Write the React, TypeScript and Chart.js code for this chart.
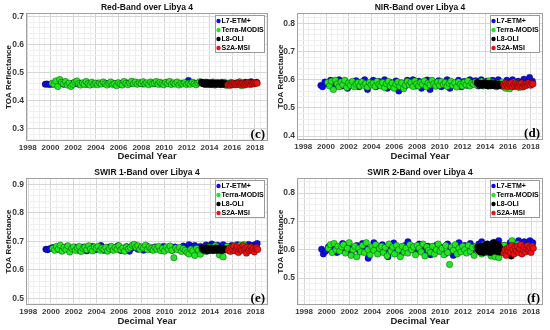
import React, { useEffect, useRef } from "react";
import { Chart, registerables } from "chart.js";

Chart.register(...registerables);

const SENSORS = ["L7-ETM+", "Terra-MODIS", "L8-OLI", "S2A-MSI"];
const SENSOR_COLORS = ["#0b0bf2", "#22e622", "#000000", "#ee1111"];
const X_TICKS = [1998, 2000, 2002, 2004, 2006, 2008, 2010, 2012, 2014, 2016, 2018];

const L7_DATES = [
  1999.55, 1999.7, 1999.9,
  2000.15, 2000.4, 2000.65, 2000.9, 2001.15, 2001.4, 2001.65, 2001.9,
  2002.15, 2002.4, 2002.65, 2002.9, 2003.15, 2003.4, 2003.65, 2003.9,
  2004.15, 2004.4, 2004.65, 2004.9, 2005.15, 2005.4, 2005.65, 2005.9,
  2006.15, 2006.4, 2006.65, 2006.9, 2007.15, 2007.4, 2007.65, 2007.9,
  2008.15, 2008.4, 2008.65, 2008.9, 2009.15, 2009.4, 2009.65, 2009.9,
  2010.15, 2010.4, 2010.65, 2010.9, 2011.15, 2011.4, 2011.65, 2011.9,
  2012.15, 2012.4, 2012.65, 2012.9, 2013.15, 2013.4, 2013.65, 2013.9,
  2014.15, 2014.4, 2014.65, 2014.9, 2015.15, 2015.4, 2015.65, 2015.9,
  2016.15, 2016.4, 2016.65, 2016.9, 2017.15, 2017.4, 2017.65, 2017.9,
  2018.15,
];
const MODIS_DATES = [
  2000.15, 2000.32, 2000.48, 2000.65, 2000.82, 2000.98,
  2001.15, 2001.32, 2001.48, 2001.65, 2001.82, 2001.98,
  2002.15, 2002.32, 2002.48, 2002.65, 2002.82, 2002.98,
  2003.15, 2003.32, 2003.48, 2003.65, 2003.82, 2003.98,
  2004.15, 2004.32, 2004.48, 2004.65, 2004.82, 2004.98,
  2005.15, 2005.32, 2005.48, 2005.65, 2005.82, 2005.98,
  2006.15, 2006.32, 2006.48, 2006.65, 2006.82, 2006.98,
  2007.15, 2007.32, 2007.48, 2007.65, 2007.82, 2007.98,
  2008.15, 2008.32, 2008.48, 2008.65, 2008.82, 2008.98,
  2009.15, 2009.32, 2009.48, 2009.65, 2009.82, 2009.98,
  2010.15, 2010.32, 2010.48, 2010.65, 2010.82, 2010.98,
  2011.15, 2011.32, 2011.48, 2011.65, 2011.82, 2011.98,
  2012.15, 2012.32, 2012.48, 2012.65, 2012.82, 2012.98,
  2013.15, 2013.32, 2013.48, 2013.65, 2013.82, 2013.98,
  2014.15, 2014.32, 2014.48, 2014.65, 2014.82, 2014.98,
  2015.15, 2015.32, 2015.48, 2015.65, 2015.82, 2015.98,
  2016.15, 2016.32, 2016.48, 2016.65, 2016.82, 2016.98,
];
const L8_DATES = [
  2013.3, 2013.38, 2013.47, 2013.55, 2013.64, 2013.72, 2013.81, 2013.9, 2013.98,
  2014.07, 2014.15, 2014.24, 2014.33, 2014.41, 2014.5, 2014.58, 2014.67, 2014.76,
  2014.84, 2014.93, 2015.01, 2015.1, 2015.19, 2015.27, 2015.36, 2016.25,
];
const S2A_DATES = [
  2015.6, 2015.7, 2015.8, 2015.9, 2016.0, 2016.1, 2016.2, 2016.3, 2016.4, 2016.5,
  2016.6, 2016.7, 2016.8, 2016.9, 2017.0, 2017.1, 2017.2, 2017.3, 2017.4, 2017.5,
  2017.6, 2017.7, 2017.8, 2017.9, 2018.0, 2018.1, 2018.2,
];

// ---------- Red band ----------
const RED_L7 = [
  0.458, 0.459, 0.457, 0.458, 0.46, 0.459, 0.461, 0.458, 0.46, 0.459,
  0.461, 0.46, 0.459, 0.462, 0.46, 0.458, 0.461, 0.459, 0.46, 0.462,
  0.46, 0.463, 0.461, 0.459, 0.462, 0.46, 0.461, 0.459, 0.462, 0.464,
  0.46, 0.461, 0.463, 0.46, 0.462, 0.459, 0.461, 0.46, 0.463, 0.46,
  0.462, 0.459, 0.461, 0.463, 0.46, 0.462, 0.46, 0.461, 0.459, 0.462,
  0.46, 0.472, 0.461, 0.463, 0.46, 0.464, 0.462, 0.465, 0.461, 0.464,
  0.46, 0.463, 0.461, 0.465, 0.46, 0.462, 0.464, 0.461, 0.463, 0.466,
  0.462, 0.465, 0.463, 0.467, 0.462, 0.465,
];
const RED_MODIS = [
  0.462, 0.458, 0.47, 0.45, 0.475, 0.465,
  0.46, 0.468, 0.455, 0.462, 0.45, 0.458,
  0.466, 0.47, 0.46, 0.455, 0.463, 0.458,
  0.468, 0.46, 0.455, 0.465, 0.458, 0.462,
  0.456, 0.463, 0.459, 0.466, 0.46, 0.455,
  0.462, 0.466, 0.457, 0.46, 0.453, 0.464,
  0.459, 0.455, 0.468, 0.461, 0.456, 0.463,
  0.469, 0.46, 0.466, 0.458, 0.464, 0.461,
  0.467, 0.459, 0.463, 0.456, 0.466, 0.46,
  0.462, 0.468, 0.458, 0.465, 0.46, 0.456,
  0.465, 0.46, 0.468, 0.457, 0.463, 0.459,
  0.466, 0.455, 0.462, 0.459, 0.464, 0.457,
  0.461, 0.458, 0.465, 0.46, 0.456, 0.463,
  0.467, 0.462, 0.459, 0.465, 0.457, 0.463,
  0.46, 0.466, 0.455, 0.462, 0.458, 0.464,
  0.459, 0.465, 0.454, 0.461, 0.457, 0.463,
  0.456, 0.462, 0.458, 0.466, 0.453, 0.46,
];
const RED_L8 = [
  0.465, 0.462, 0.46, 0.463, 0.458, 0.461, 0.464, 0.459, 0.462, 0.46,
  0.457, 0.463, 0.461, 0.459, 0.462, 0.458, 0.46, 0.463, 0.459, 0.461,
  0.457, 0.462, 0.46, 0.458, 0.461, 0.46,
];
const RED_S2A = [
  0.456, 0.458, 0.454, 0.46, 0.457, 0.462, 0.459, 0.456, 0.461, 0.458,
  0.463, 0.46, 0.457, 0.462, 0.459, 0.455, 0.461, 0.458, 0.464, 0.46,
  0.457, 0.462, 0.459, 0.463, 0.46, 0.464, 0.462,
];

// ---------- NIR band ----------
const NIR_L7 = [
  0.58, 0.575, 0.592, 0.585, 0.598, 0.572, 0.59, 0.6, 0.578, 0.595,
  0.57, 0.588, 0.582, 0.597, 0.575, 0.592, 0.6, 0.565, 0.588, 0.598,
  0.575, 0.594, 0.58, 0.6, 0.57, 0.59, 0.583, 0.596, 0.56, 0.588,
  0.575, 0.598, 0.585, 0.6, 0.578, 0.595, 0.57, 0.588, 0.599, 0.565,
  0.592, 0.58, 0.597, 0.575, 0.59, 0.6, 0.57, 0.588, 0.582, 0.598,
  0.575, 0.594, 0.58, 0.6, 0.585, 0.597, 0.578, 0.6, 0.588, 0.595,
  0.58, 0.598, 0.585, 0.6, 0.578, 0.59, 0.598, 0.582, 0.6, 0.588,
  0.595, 0.585, 0.602, 0.59, 0.608, 0.595,
];
const NIR_MODIS = [
  0.59, 0.578, 0.595, 0.565, 0.598, 0.585,
  0.575, 0.592, 0.582, 0.598, 0.572, 0.588,
  0.58, 0.594, 0.575, 0.585, 0.59, 0.578,
  0.592, 0.58, 0.586, 0.574, 0.59, 0.582,
  0.588, 0.576, 0.594, 0.583, 0.578, 0.59,
  0.572, 0.586, 0.594, 0.578, 0.588, 0.57,
  0.584, 0.592, 0.576, 0.589, 0.568, 0.58,
  0.594, 0.582, 0.59, 0.576, 0.596, 0.585,
  0.578, 0.59, 0.583, 0.596, 0.575, 0.588,
  0.582, 0.598, 0.585, 0.577, 0.592, 0.58,
  0.594, 0.583, 0.59, 0.576, 0.588, 0.595,
  0.58, 0.589, 0.574, 0.592, 0.584, 0.578,
  0.59, 0.582, 0.596, 0.578, 0.588, 0.584,
  0.592, 0.58, 0.587, 0.595, 0.578, 0.59,
  0.585, 0.596, 0.578, 0.59, 0.583, 0.575,
  0.588, 0.58, 0.592, 0.574, 0.57, 0.585,
  0.568, 0.58, 0.59, 0.575, 0.586, 0.572,
];
const NIR_L8 = [
  0.59, 0.586, 0.582, 0.588, 0.584, 0.58, 0.587, 0.583, 0.589, 0.581,
  0.585, 0.578, 0.586, 0.582, 0.588, 0.58, 0.584, 0.579, 0.586, 0.581,
  0.583, 0.578, 0.585, 0.58, 0.582, 0.583,
];
const NIR_S2A = [
  0.585, 0.578, 0.588, 0.582, 0.576, 0.586, 0.58, 0.589, 0.575, 0.584,
  0.579, 0.587, 0.582, 0.576, 0.585, 0.58, 0.588, 0.574, 0.583, 0.578,
  0.586, 0.581, 0.589, 0.584, 0.58, 0.587, 0.585,
];

// ---------- SWIR 1 band ----------
const SWIR1_L7 = [
  0.672, 0.67, 0.674, 0.678, 0.671, 0.68, 0.668, 0.676, 0.682, 0.67,
  0.675, 0.679, 0.668, 0.673, 0.68, 0.666, 0.675, 0.682, 0.67, 0.678,
  0.685, 0.668, 0.674, 0.68, 0.671, 0.677, 0.684, 0.667, 0.675, 0.681,
  0.665, 0.676, 0.686, 0.672, 0.679, 0.668, 0.683, 0.674, 0.67, 0.68,
  0.675, 0.669, 0.682, 0.673, 0.677, 0.668, 0.68, 0.674, 0.671, 0.683,
  0.676, 0.688, 0.679, 0.685, 0.674, 0.682, 0.676, 0.687, 0.678, 0.69,
  0.68, 0.686, 0.675, 0.688, 0.682, 0.679, 0.685, 0.68, 0.688, 0.683,
  0.686, 0.681, 0.689, 0.684, 0.687, 0.692,
];
const SWIR1_MODIS = [
  0.675, 0.668, 0.682, 0.672, 0.686, 0.665,
  0.678, 0.67, 0.684, 0.662, 0.675, 0.68,
  0.668, 0.676, 0.682, 0.664, 0.674, 0.679,
  0.67, 0.684, 0.673, 0.666, 0.68, 0.675,
  0.682, 0.668, 0.676, 0.671, 0.679, 0.665,
  0.674, 0.682, 0.668, 0.678, 0.672, 0.684,
  0.67, 0.676, 0.665, 0.68, 0.673, 0.678,
  0.686, 0.689, 0.679, 0.684, 0.672, 0.68,
  0.676, 0.686, 0.67, 0.68, 0.674, 0.668,
  0.678, 0.672, 0.682, 0.667, 0.675, 0.665,
  0.68, 0.672, 0.683, 0.668, 0.642, 0.676,
  0.67, 0.678, 0.664, 0.674, 0.668, 0.66,
  0.655, 0.672, 0.666, 0.65, 0.675, 0.668,
  0.654, 0.67, 0.676, 0.664, 0.68, 0.672,
  0.678, 0.668, 0.684, 0.674, 0.652, 0.67,
  0.645, 0.675, 0.682, 0.668, 0.678, 0.672,
  0.684, 0.674, 0.678, 0.686, 0.67, 0.688,
];
const SWIR1_L8 = [
  0.676, 0.672, 0.668, 0.674, 0.67, 0.677, 0.666, 0.673, 0.669, 0.675,
  0.671, 0.667, 0.674, 0.67, 0.676, 0.668, 0.672, 0.669, 0.675, 0.671,
  0.667, 0.673, 0.669, 0.674, 0.67, 0.668,
];
const SWIR1_S2A = [
  0.668, 0.675, 0.664, 0.678, 0.67, 0.682, 0.666, 0.674, 0.68, 0.66,
  0.672, 0.677, 0.668, 0.684, 0.671, 0.675, 0.658, 0.679, 0.666, 0.673,
  0.68, 0.669, 0.676, 0.662, 0.674, 0.678, 0.671,
];

// ---------- SWIR 2 band ----------
const SWIR2_L7 = [
  0.602, 0.585, 0.595, 0.61, 0.6, 0.618, 0.59, 0.605, 0.622, 0.598,
  0.612, 0.588, 0.604, 0.615, 0.595, 0.622, 0.608, 0.57, 0.598, 0.625,
  0.61, 0.592, 0.618, 0.6, 0.575, 0.612, 0.624, 0.598, 0.606, 0.59,
  0.615, 0.628, 0.6, 0.61, 0.595, 0.62, 0.605, 0.59, 0.612, 0.582,
  0.6, 0.616, 0.595, 0.608, 0.585, 0.62, 0.6, 0.58, 0.61, 0.625,
  0.598, 0.615, 0.605, 0.622, 0.59, 0.612, 0.62, 0.628, 0.605, 0.618,
  0.6, 0.625, 0.61, 0.632, 0.608, 0.615, 0.6, 0.625, 0.612, 0.62,
  0.632, 0.61, 0.628, 0.615, 0.632, 0.625,
];
const SWIR2_MODIS = [
  0.605, 0.618, 0.59, 0.622, 0.6, 0.612,
  0.595, 0.61, 0.618, 0.588, 0.605, 0.625,
  0.58, 0.6, 0.612, 0.575, 0.605, 0.592,
  0.615, 0.59, 0.625, 0.6, 0.582, 0.61,
  0.598, 0.618, 0.585, 0.605, 0.612, 0.59,
  0.608, 0.578, 0.62, 0.595, 0.61, 0.585,
  0.615, 0.6, 0.575, 0.612, 0.592, 0.605,
  0.588, 0.618, 0.6, 0.61, 0.582, 0.615,
  0.605, 0.592, 0.62, 0.578, 0.61, 0.598,
  0.59, 0.612, 0.585, 0.6, 0.62, 0.595,
  0.605, 0.582, 0.615, 0.59, 0.548, 0.61,
  0.598, 0.618, 0.585, 0.605, 0.592, 0.612,
  0.6, 0.588, 0.615, 0.595, 0.608, 0.58,
  0.612, 0.595, 0.605, 0.585, 0.618, 0.6,
  0.59, 0.61, 0.578, 0.6, 0.575, 0.608,
  0.572, 0.605, 0.59, 0.615, 0.598, 0.585,
  0.6, 0.632, 0.61, 0.595, 0.62, 0.605,
];
const SWIR2_L8 = [
  0.61, 0.598, 0.605, 0.592, 0.612, 0.6, 0.59, 0.615, 0.603, 0.595,
  0.62, 0.6, 0.608, 0.59, 0.612, 0.598, 0.605, 0.625, 0.595, 0.61,
  0.6, 0.618, 0.592, 0.606, 0.6, 0.578,
];
const SWIR2_S2A = [
  0.588, 0.6, 0.58, 0.605, 0.595, 0.61, 0.59, 0.615, 0.6, 0.585,
  0.608, 0.596, 0.612, 0.59, 0.604, 0.618, 0.585, 0.6, 0.61, 0.592,
  0.605, 0.615, 0.598, 0.608, 0.59, 0.612, 0.605,
];

const PANEL_TITLES = [
  "Red-Band over Libya 4",
  "NIR-Band over Libya 4",
  "SWIR 1-Band over Libya 4",
  "SWIR 2-Band over Libya 4",
];
const PANEL_LETTERS = ["(c)", "(d)", "(e)", "(f)"];
const Y_TICKS = [
  [0.3, 0.4, 0.5, 0.6, 0.7],
  [0.4, 0.5, 0.6, 0.7, 0.8],
  [0.5, 0.6, 0.7, 0.8, 0.9],
  [0.5, 0.6, 0.7, 0.8],
];
const Y_RANGES = [
  [0.255, 0.713],
  [0.386, 0.837],
  [0.476, 0.922],
  [0.405, 0.853],
];
const X_RANGES = [
  [1997.85, 2019.15],
  [1997.45, 2019.08],
  [1997.8, 2019.1],
  [1997.38, 2019.05],
];
const BAND_SERIES = [
  [RED_L7, RED_MODIS, RED_L8, RED_S2A],
  [NIR_L7, NIR_MODIS, NIR_L8, NIR_S2A],
  [SWIR1_L7, SWIR1_MODIS, SWIR1_L8, SWIR1_S2A],
  [SWIR2_L7, SWIR2_MODIS, SWIR2_L8, SWIR2_S2A],
];
const SENSOR_DATES = [L7_DATES, MODIS_DATES, L8_DATES, S2A_DATES];

// layout (style only)
const W = 275;
const H = 165;
const LAYOUT = [
  { x: 0, y: 0, left: 26, right: 268, top: 13, bottom: 141, yTitlePad: 3.5 },
  { x: 275, y: 0, left: 22, right: 268, top: 13, bottom: 140, yTitlePad: 1 },
  { x: 0, y: 165, left: 26, right: 268, top: 13, bottom: 140, yTitlePad: 3.5 },
  { x: 275, y: 165, left: 22, right: 268, top: 13, bottom: 140, yTitlePad: 0.5 },
];

const FONT = "'Liberation Sans', Arial, sans-serif";

function buildTicks(min: number, max: number, majors: number[], step: number) {
  const out: any[] = [];
  const start = Math.ceil(min / step - 1e-9);
  for (let k = start; k * step <= max + 1e-9; k++) {
    const v = +(k * step).toFixed(4);
    const m = majors.some((t) => Math.abs(t - v) < 1e-6);
    out.push({ value: v, m });
  }
  return out;
}

const decorPlugin = {
  id: "decor",
  afterDraw(chart: any, _args: any, opts: any) {
    const { ctx, chartArea: a } = chart;
    ctx.save();
    // frame
    ctx.strokeStyle = "#a0a0a0";
    ctx.lineWidth = 1;
    ctx.strokeRect(a.left + 0.5, a.top + 0.5, a.right - a.left - 1, a.bottom - a.top - 1);
    // title
    ctx.fillStyle = "#111";
    ctx.font = `bold 8.5px ${FONT}`;
    ctx.textAlign = "center";
    ctx.textBaseline = "middle";
    ctx.fillText(opts.title, (a.left + a.right) / 2, 8);
    // letter
    ctx.font = "bold 13px 'Liberation Serif', 'DejaVu Serif', serif";
    ctx.textAlign = "right";
    ctx.textBaseline = "alphabetic";
    ctx.fillStyle = "#000";
    ctx.fillText(opts.letter, a.right - 3, a.bottom - 3);
    // legend
    const bw = 50;
    const bh = 38;
    const bx = a.right - 3 - bw;
    const by = a.top + 2;
    ctx.fillStyle = "#ffffff";
    ctx.fillRect(bx, by, bw, bh);
    ctx.strokeStyle = "#9a9a9a";
    ctx.strokeRect(bx + 0.5, by + 0.5, bw - 1, bh - 1);
    ctx.font = `bold 7px ${FONT}`;
    ctx.textAlign = "left";
    ctx.textBaseline = "middle";
    chart.data.datasets.forEach((ds: any, i: number) => {
      const ry = by + 6 + i * 9;
      ctx.beginPath();
      ctx.arc(bx + 3.5, ry, 2.2, 0, Math.PI * 2);
      ctx.fillStyle = ds.backgroundColor;
      ctx.fill();
      ctx.fillStyle = "#000";
      ctx.fillText(ds.label, bx + 6.5, ry + 0.5);
    });
    ctx.restore();
  },
};

function Panel({ idx }: { idx: number }) {
  const ref = useRef<HTMLCanvasElement | null>(null);
  useEffect(() => {
    if (!ref.current) return;
    const L = LAYOUT[idx];
    const [xMin, xMax] = X_RANGES[idx];
    const [yMin, yMax] = Y_RANGES[idx];
    const series = BAND_SERIES[idx];
    const datasets = SENSORS.map((name, s) => ({
      label: name,
      data: SENSOR_DATES[s].map((d, j) => ({ x: d, y: series[s][j] })),
      backgroundColor: SENSOR_COLORS[s],
      borderColor: s === 2 ? "#000" : "rgba(0,0,0,0.55)",
      borderWidth: 0.6,
      pointRadius: 3.2,
      order: 4 - s,
    }));
    const chart = new Chart(ref.current, {
      type: "scatter",
      data: { datasets },
      plugins: [decorPlugin],
      options: {
        animation: false,
        responsive: false,
        devicePixelRatio: 1,
        events: [],
        layout: { padding: { left: 0, right: W - L.right, top: L.top, bottom: 0 } },
        plugins: {
          legend: { display: false },
          tooltip: { enabled: false },
          title: { display: false },
          decor: { title: PANEL_TITLES[idx], letter: PANEL_LETTERS[idx] },
        } as any,
        scales: {
          x: {
            type: "linear",
            min: xMin,
            max: xMax,
            afterBuildTicks: (sc: any) => {
              sc.ticks = buildTicks(xMin, xMax, X_TICKS, 0.5);
            },
            afterFit: (sc: any) => {
              sc.height = H - L.bottom;
            },
            grid: {
              drawTicks: false,
              color: (c: any) => (c.tick && c.tick.m ? "#d6d6d6" : "#efefef"),
              lineWidth: 1,
            },
            border: { display: false },
            ticks: {
              autoSkip: false,
              maxRotation: 0,
              padding: 2,
              color: "#3a3a3a",
              font: { family: FONT, size: 8, weight: "bold" },
              callback: (v: any, i: number, t: any[]) => (t[i] && t[i].m ? String(Math.round(v)) : ""),
            },
            title: {
              display: true,
              text: "Decimal Year",
              color: "#222",
              font: { family: FONT, size: 9.5, weight: "bold" },
              padding: { top: 0, bottom: 3 },
            },
          },
          y: {
            type: "linear",
            min: yMin,
            max: yMax,
            afterBuildTicks: (sc: any) => {
              sc.ticks = buildTicks(yMin, yMax, Y_TICKS[idx], 0.02);
            },
            afterFit: (sc: any) => {
              sc.width = L.left;
            },
            grid: {
              drawTicks: false,
              color: (c: any) => (c.tick && c.tick.m ? "#d6d6d6" : "#efefef"),
              lineWidth: 1,
            },
            border: { display: false },
            ticks: {
              autoSkip: false,
              padding: 2,
              color: "#3a3a3a",
              font: { family: FONT, size: 8.5, weight: "bold" },
              callback: (v: any, i: number, t: any[]) => (t[i] && t[i].m ? Number(v).toFixed(1) : ""),
            },
            title: {
              display: true,
              text: "TOA Reflectance",
              color: "#222",
              font: { family: FONT, size: 8, weight: "bold" },
              padding: { top: L.yTitlePad, bottom: 0 },
            },
          },
        },
      } as any,
    });
    return () => chart.destroy();
  }, [idx]);
  const L = LAYOUT[idx];
  return (
    <canvas
      ref={ref}
      width={W}
      height={H}
      style={{ position: "absolute", left: L.x, top: L.y, width: W, height: H }}
    />
  );
}

export default function App() {
  useEffect(() => {
    document.body.style.margin = "0";
    document.body.style.background = "#ffffff";
  }, []);
  return (
    <div style={{ position: "relative", width: 550, height: 330, background: "#fff", overflow: "hidden" }}>
      {[0, 1, 2, 3].map((i) => (
        <Panel key={i} idx={i} />
      ))}
    </div>
  );
}
